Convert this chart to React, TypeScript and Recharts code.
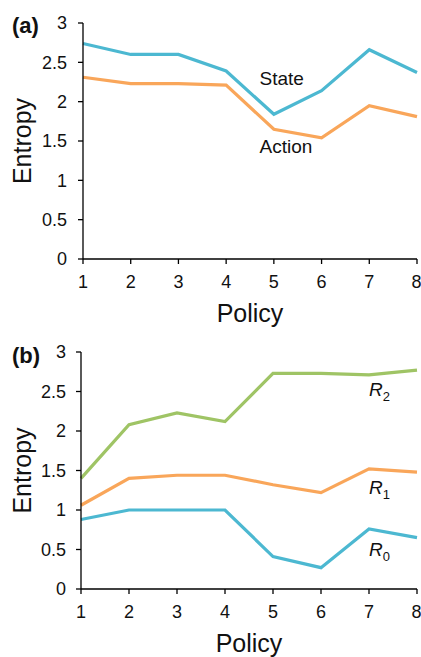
import React from 'react';
import { LineChart, Line, XAxis, YAxis, ReferenceDot } from 'recharts';

const policies = [1, 2, 3, 4, 5, 6, 7, 8];
const stateEntropy = [2.74, 2.6, 2.6, 2.39, 1.84, 2.14, 2.66, 2.37];
const actionEntropy = [2.31, 2.23, 2.23, 2.21, 1.65, 1.54, 1.95, 1.81];
const r0Entropy = [0.88, 1.0, 1.0, 1.0, 0.41, 0.27, 0.76, 0.65];
const r1Entropy = [1.06, 1.4, 1.44, 1.44, 1.32, 1.22, 1.52, 1.48];
const r2Entropy = [1.4, 2.08, 2.23, 2.12, 2.73, 2.73, 2.71, 2.77];
const yTicks = [0, 0.5, 1, 1.5, 2, 2.5, 3];

// annotation anchors (policy, entropy) at text baseline start
const stateLabelAt = [4.7, 2.21];
const actionLabelAt = [4.7, 1.35];
const r2LabelAt = [7.0, 2.44];
const r1LabelAt = [7.0, 1.2];
const r0LabelAt = [7.0, 0.42];

const BLUE = '#4cb8d1';
const ORANGE = '#f9a65a';
const GREEN = '#9fc465';
const FONT = '"Liberation Sans", Arial, Helvetica, sans-serif';

const dataA = policies.map((p, i) => ({ policy: p, state: stateEntropy[i], action: actionEntropy[i] }));
const dataB = policies.map((p, i) => ({ policy: p, r0: r0Entropy[i], r1: r1Entropy[i], r2: r2Entropy[i] }));

const plainLabel = (text: string) => (props: any) => {
    const { viewBox } = props;
    return (
        <text x={viewBox.x} y={viewBox.y} fontSize={19} fill="#111" fontFamily={FONT}>
            {text}
        </text>
    );
};

const rLabel = (sub: string) => (props: any) => {
    const { viewBox } = props;
    return (
        <text x={viewBox.x} y={viewBox.y} fontSize={19} fill="#111" fontFamily={FONT}>
            <tspan fontStyle="italic">R</tspan>
            <tspan fontSize={13} dy={5}>{sub}</tspan>
        </text>
    );
};

function Panel({ tag }: { tag: string }) {
    return (
        <div style={{ position: 'absolute', left: 12, top: 13, fontSize: 22, lineHeight: '26px', fontWeight: 'bold', fontFamily: FONT, color: '#111' }}>
            {tag}
        </div>
    );
}

const tickStyle = { fontSize: 18, fill: '#111', fontFamily: FONT };
const axisStroke = { stroke: '#000', strokeWidth: 1.3 };

export default function App() {
    return (
        <div style={{ position: 'relative', width: 421, height: 657, fontFamily: FONT, background: '#fff' }}>
            <style>{`body{margin:0}`}</style>
            <div style={{ position: 'absolute', left: 0, top: 0 }}>
                <LineChart width={421} height={330} data={dataA} margin={{ top: 23, right: 4, left: 0, bottom: 0 }}>
                    <XAxis
                        dataKey="policy"
                        type="number"
                        domain={[1, 8]}
                        ticks={policies}
                        height={71}
                        tickSize={5}
                        tickMargin={11}
                        tick={tickStyle}
                        axisLine={axisStroke}
                        tickLine={axisStroke}
                        label={{ value: 'Policy', position: 'insideBottom', offset: 8, fontSize: 25, fill: '#111', fontFamily: FONT }}
                    />
                    <YAxis
                        domain={[0, 3]}
                        ticks={yTicks}
                        width={83}
                        tickSize={5}
                        tickMargin={11}
                        tick={tickStyle}
                        axisLine={axisStroke}
                        tickLine={axisStroke}
                        label={{ value: 'Entropy', angle: -90, position: 'insideLeft', offset: 22, textAnchor: 'middle', fontSize: 25, fill: '#111', fontFamily: FONT }}
                    />
                    <Line type="linear" dataKey="state" stroke={BLUE} strokeWidth={3.2} dot={false} isAnimationActive={false} />
                    <Line type="linear" dataKey="action" stroke={ORANGE} strokeWidth={3.2} dot={false} isAnimationActive={false} />
                    <ReferenceDot x={stateLabelAt[0]} y={stateLabelAt[1]} r={0} fill="none" stroke="none" label={plainLabel('State')} />
                    <ReferenceDot x={actionLabelAt[0]} y={actionLabelAt[1]} r={0} fill="none" stroke="none" label={plainLabel('Action')} />
                </LineChart>
                <Panel tag="(a)" />
            </div>
            <div style={{ position: 'absolute', left: 0, top: 330 }}>
                <LineChart width={421} height={327} data={dataB} margin={{ top: 22, right: 4, left: 0, bottom: 0 }}>
                    <XAxis
                        dataKey="policy"
                        type="number"
                        domain={[1, 8]}
                        ticks={policies}
                        height={68}
                        tickSize={5}
                        tickMargin={11}
                        tick={tickStyle}
                        axisLine={axisStroke}
                        tickLine={axisStroke}
                        label={{ value: 'Policy', position: 'insideBottom', offset: 5, fontSize: 25, fill: '#111', fontFamily: FONT }}
                    />
                    <YAxis
                        domain={[0, 3]}
                        ticks={yTicks}
                        width={81}
                        tickSize={5}
                        tickMargin={10}
                        tick={tickStyle}
                        axisLine={axisStroke}
                        tickLine={axisStroke}
                        label={{ value: 'Entropy', angle: -90, position: 'insideLeft', offset: 22, textAnchor: 'middle', fontSize: 25, fill: '#111', fontFamily: FONT }}
                    />
                    <Line type="linear" dataKey="r2" stroke={GREEN} strokeWidth={3.2} dot={false} isAnimationActive={false} />
                    <Line type="linear" dataKey="r1" stroke={ORANGE} strokeWidth={3.2} dot={false} isAnimationActive={false} />
                    <Line type="linear" dataKey="r0" stroke={BLUE} strokeWidth={3.2} dot={false} isAnimationActive={false} />
                    <ReferenceDot x={r2LabelAt[0]} y={r2LabelAt[1]} r={0} fill="none" stroke="none" label={rLabel('2')} />
                    <ReferenceDot x={r1LabelAt[0]} y={r1LabelAt[1]} r={0} fill="none" stroke="none" label={rLabel('1')} />
                    <ReferenceDot x={r0LabelAt[0]} y={r0LabelAt[1]} r={0} fill="none" stroke="none" label={rLabel('0')} />
                </LineChart>
                <Panel tag="(b)" />
            </div>
        </div>
    );
}
